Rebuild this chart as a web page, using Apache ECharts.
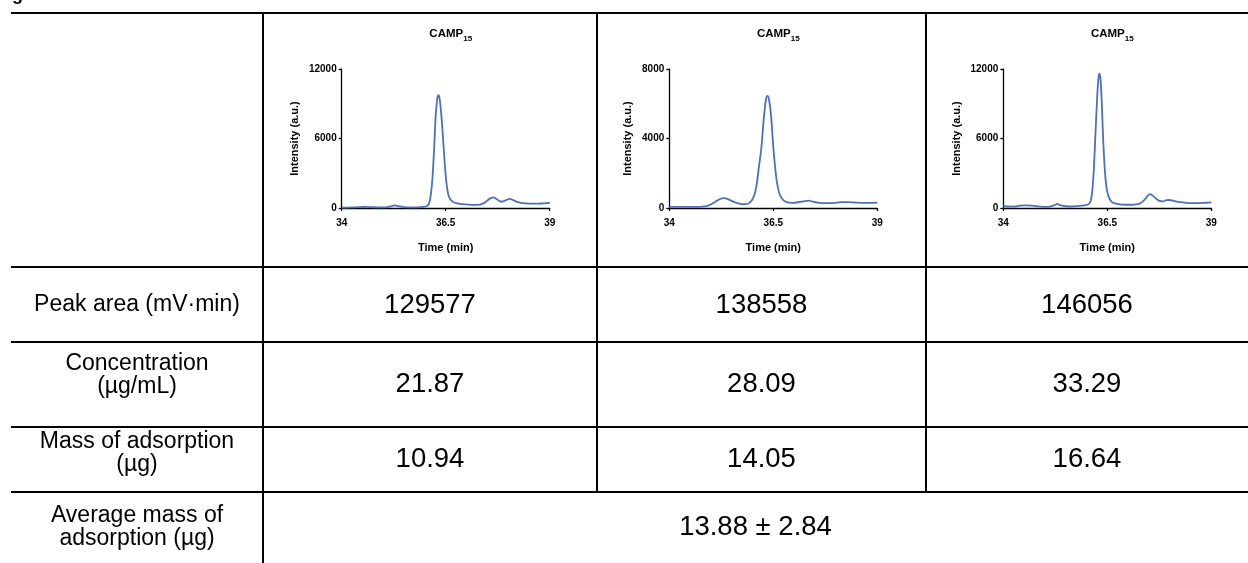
<!DOCTYPE html>
<html><head><meta charset="utf-8">
<script src="https://cdn.jsdelivr.net/npm/echarts@6/dist/echarts.min.js"></script>
<style>html,body{margin:0;padding:0;background:#fff}#c{width:1248px;height:563px}</style>
</head><body><div id="c"></div>
<script>
// ---- chart data ----
const titleMain = 'CAMP';
const titleSub = '15';
const xAxisName = 'Time (min)';
const yAxisName = 'Intensity (a.u.)';
const xTicks = [34, 36.5, 39];
const yMax = [12000, 8000, 12000];
const yStep = [6000, 4000, 6000];

const time1 = [34.00,34.15,34.30,34.45,34.60,34.75,34.90,35.05,35.18,35.28,35.38,35.50,35.65,35.80,35.95,36.05,36.10,36.14,36.18,36.22,36.26,36.30,36.33,36.36,36.40,36.44,36.48,36.52,36.56,36.61,36.68,36.78,36.90,37.05,37.20,37.32,37.42,37.50,37.58,37.65,37.72,37.80,37.88,37.96,38.04,38.12,38.22,38.35,38.50,38.70,38.85,39.00];
const int1  = [30,40,60,80,100,70,50,60,150,230,150,70,50,60,100,180,400,1100,2500,5000,8000,9500,9750,9300,7800,5800,3700,2100,1200,750,520,400,330,290,270,300,420,650,850,920,780,580,560,700,780,680,520,420,380,370,400,430];

const time2 = [34.00,34.20,34.40,34.60,34.80,34.95,35.10,35.22,35.32,35.42,35.55,35.68,35.80,35.92,36.02,36.09,36.15,36.21,36.27,36.32,36.36,36.40,36.45,36.50,36.55,36.60,36.66,36.74,36.84,36.96,37.10,37.22,37.34,37.46,37.60,37.80,38.00,38.15,38.30,38.50,38.75,39.00];
const int2  = [60,60,60,60,80,150,350,520,570,500,350,250,220,280,600,1200,2300,3400,5100,6200,6450,6200,5200,3500,2200,1300,750,450,320,300,330,380,430,360,300,280,300,340,340,310,300,310];

const time3 = [34.00,34.10,34.25,34.40,34.55,34.70,34.85,35.00,35.12,35.22,35.30,35.38,35.50,35.65,35.80,35.95,36.05,36.10,36.14,36.18,36.22,36.26,36.29,36.31,36.34,36.37,36.40,36.44,36.48,36.53,36.60,36.70,36.85,37.00,37.15,37.28,37.38,37.46,37.52,37.58,37.66,37.75,37.84,37.92,38.00,38.10,38.22,38.40,38.60,38.80,39.00];
const int3  = [180,130,120,200,230,200,140,90,110,220,350,230,150,130,170,230,320,600,1500,3600,6800,9800,11300,11600,11000,8800,6000,3300,1800,1000,550,380,300,280,300,380,650,1000,1200,1100,850,620,580,680,690,620,520,440,420,440,490];

// ---- table data ----
const rowLabels = [['Peak area (mV·min)'], ['Concentration', '(µg/mL)'], ['Mass of adsorption', '(µg)'], ['Average mass of', 'adsorption (µg)']];
const peakArea = ['129577', '138558', '146056'];
const concentration = ['21.87', '28.09', '33.29'];
const massAdsorption = ['10.94', '14.05', '16.64'];
const averageMass = '13.88 ± 2.84';
const panelLetter = 'g';

// ---- layout ----
const chart = echarts.init(document.getElementById('c'), null, {renderer: 'canvas'});
const FONT = '"Liberation Sans", Arial, sans-serif';
const plotLeft = [341.7, 669.3, 1003.3];
const plotW = 208, plotTop = 69, plotH = 139;
const nameGaps = [41, 36, 41];
const series = [[time1, int1], [time2, int2], [time3, int3]];

const grids = [], xAxes = [], yAxes = [], seriesOpt = [], titles = [];
for (let i = 0; i < 3; i++) {
  grids.push({left: plotLeft[i], top: plotTop, width: plotW, height: plotH, containLabel: false});
  const axisLineStyle = {color: '#000', width: 1.3};
  xAxes.push({
    type: 'value', gridIndex: i, min: 34, max: 39,
    axisLine: {show: true, onZero: false, lineStyle: axisLineStyle},
    axisTick: {show: true, length: 3, customValues: xTicks, lineStyle: axisLineStyle},
    axisLabel: {customValues: xTicks, fontSize: 10, fontWeight: 'bold', color: '#000', margin: 10, fontFamily: FONT,
      formatter: v => String(v)},
    splitLine: {show: false},
    name: xAxisName, nameLocation: 'middle', nameGap: 34,
    nameTextStyle: {fontSize: 11, fontWeight: 'bold', color: '#000', fontFamily: FONT}
  });
  yAxes.push({
    type: 'value', gridIndex: i, min: 0, max: yMax[i], interval: yStep[i],
    axisLine: {show: true, onZero: false, lineStyle: axisLineStyle},
    axisTick: {show: true, length: 3, lineStyle: axisLineStyle},
    axisLabel: {fontSize: 10, fontWeight: 'bold', color: '#000', margin: 5, fontFamily: FONT,
      formatter: v => String(v)},
    splitLine: {show: false},
    name: yAxisName, nameLocation: 'middle', nameGap: nameGaps[i],
    nameTextStyle: {fontSize: 11, fontWeight: 'bold', color: '#000', fontFamily: FONT}
  });
  const [t, v] = series[i];
  seriesOpt.push({
    type: 'line', xAxisIndex: i, yAxisIndex: i, showSymbol: false, smooth: 0.3,
    lineStyle: {color: '#4a70c0', width: 1.8}, itemStyle: {color: '#4a70c0'},
    data: t.map((x, k) => [x, v[k]]), animation: false
  });
  titles.push({
    text: '{a|' + titleMain + '}{b|' + titleSub + '}',
    left: plotLeft[i] + plotW / 2, top: 21, textAlign: 'center',
    textStyle: {rich: {
      a: {fontSize: 11.5, fontWeight: 'bold', color: '#000', fontFamily: FONT, lineHeight: 14, verticalAlign: 'bottom'},
      b: {fontSize: 8, fontWeight: 'bold', color: '#000', fontFamily: FONT, lineHeight: 14, verticalAlign: 'bottom', padding: [0, 0, -3, 0]}
    }}
  });
}

// table geometry
const xL = 11, xR = 1248;
const colX = [263, 597, 926];
const hY = [13, 267, 342, 427, 492];
const graphics = [];
function hline(y) { graphics.push({type: 'line', shape: {x1: xL, y1: y, x2: xR, y2: y}, style: {stroke: '#000', lineWidth: 2}, silent: true}); }
function vline(x, y1, y2) { graphics.push({type: 'line', shape: {x1: x, y1: y1, x2: x, y2: y2}, style: {stroke: '#000', lineWidth: 2}, silent: true}); }
hY.forEach(hline);
vline(colX[0], 12, 563);
vline(colX[1], 12, 493);
vline(colX[2], 12, 493);

function txt(s, x, y, size, opts) {
  graphics.push(Object.assign({type: 'text', x: x, y: y, silent: true,
    style: {text: s, font: size + 'px ' + FONT, fill: '#000', align: 'center', verticalAlign: 'middle'}}, opts || {}));
}
const labelCX = (xL + colX[0]) / 2;
const valCX = [(colX[0] + colX[1]) / 2, (colX[1] + colX[2]) / 2, (colX[2] + xR) / 2];
const labelSize = 23, valueSize = 27.5;
const labelLineY = [[305], [364, 387], [442, 465], [516, 539]];
rowLabels.forEach((lines, r) => lines.forEach((s, k) => txt(s, labelCX, labelLineY[r][k], labelSize)));
const rowMid = [305, 384.5, 459.5, 527];
[peakArea, concentration, massAdsorption].forEach((vals, r) => vals.forEach((s, c) => txt(s, valCX[c], rowMid[r], valueSize)));
txt(averageMass, (colX[0] + xR) / 2, rowMid[3], valueSize);
graphics.push({type: 'text', x: 12, y: 4, silent: true,
  style: {text: panelLetter, font: 'bold 18px ' + FONT, fill: '#000', align: 'left', verticalAlign: 'bottom'}});

chart.setOption({
  animation: false,
  backgroundColor: '#fff',
  title: titles,
  grid: grids,
  xAxis: xAxes,
  yAxis: yAxes,
  series: seriesOpt,
  graphic: graphics
});
</script>
</body></html>
